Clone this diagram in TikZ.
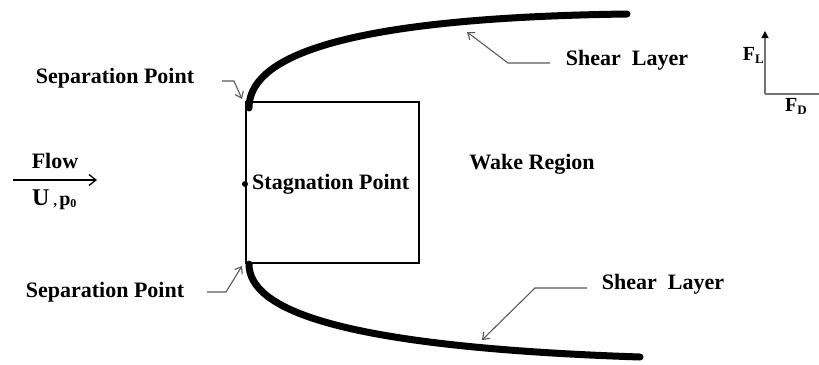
\documentclass[tikz,border=0pt]{standalone}
\usepackage{fontspec}
\setmainfont{Liberation Serif}
\usetikzlibrary{arrows.meta}
\begin{document}
\begin{tikzpicture}[x=1pt,y=-1pt,
  lbl/.style={font=\fontsize{22}{25}\selectfont\bfseries, inner sep=0pt},
  leader/.style={draw=black!65, line width=1.1pt, -{Straight Barb[length=6pt,width=9pt]}},
  layer/.style={line width=7pt, line cap=round},
  body/.style={draw, line width=1.4pt}]
\useasboundingbox (0,0) rectangle (819,364);
% body
\draw[body] (246,102) rectangle (419,263);
\coordinate (tl) at (249,108);
\coordinate (bl) at (249,264);
\coordinate (tend) at (627,14);
\coordinate (bend) at (640,357);
% shear layers
\draw[layer] (tl) .. controls (249,60) and (330,18) .. (tend);
\draw[layer] (bl) .. controls (249,310) and (340,347) .. (bend);
% stagnation
\fill (245,184) circle (3);
\node[lbl, anchor=west] (stag) at (252,184) {Stagnation Point};
% wake
\node[lbl] (wake) at (532,164) {Wake Region};
% flow
\coordinate (f1) at (13,180);
\coordinate (f2) at (97,180);
\draw[line width=1.3pt, -{Straight Barb[length=7pt,width=11pt]}] (f1) -- (f2);
\node[lbl] (flow) at (55,161) {Flow};
\node[lbl, anchor=west] (u) at (32,200) {\fontsize{24}{26}\selectfont U\,\fontsize{14}{16}\selectfont,\,\fontsize{20}{22}\selectfont p\raisebox{-2pt}{\fontsize{12}{14}\selectfont 0}};
% separation points
\node[lbl] (sep1) at (115,78) {Separation Point};
\coordinate (s1a) at (222,81);
\coordinate (s1b) at (234,81);
\coordinate (s1c) at (242,99);
\draw[leader] (s1a) -- (s1b) -- (s1c);
\node[lbl] (sep2) at (105,292) {Separation Point};
\coordinate (s2a) at (207,292);
\coordinate (s2b) at (226,292);
\coordinate (s2c) at (242,266);
\draw[leader] (s2a) -- (s2b) -- (s2c);
% shear layer labels
\node[lbl] (sh1) at (627,60) {Shear\ \ Layer};
\coordinate (h1a) at (550,63);
\coordinate (h1b) at (508,63);
\coordinate (h1c) at (467,32);
\draw[leader] (h1a) -- (h1b) -- (h1c);
\node[lbl] (sh2) at (663,284) {Shear\ \ Layer};
\coordinate (h2a) at (587,288);
\coordinate (h2b) at (535,288);
\coordinate (h2c) at (482,340);
\draw[leader] (h2a) -- (h2b) -- (h2c);
% force axes
\coordinate (o) at (765,94);
\coordinate (fl) at (765,31);
\coordinate (fd) at (819,94);
\draw[draw=black!55, line width=1.2pt, -{Triangle[length=7pt,width=7pt,color=black]}] (o) -- (fl);
\draw[draw=black!55, line width=1.2pt] (o) -- (fd);
\node[font=\fontsize{20}{22}\selectfont\bfseries, inner sep=0pt, anchor=east] (flab) at (764,55) {F\raisebox{-3pt}{\fontsize{13}{15}\selectfont L}};
\node[font=\fontsize{20}{22}\selectfont\bfseries, inner sep=0pt, anchor=west] (fdlab) at (785,106) {F\raisebox{-3pt}{\fontsize{13}{15}\selectfont D}};
\end{tikzpicture}
\end{document}
